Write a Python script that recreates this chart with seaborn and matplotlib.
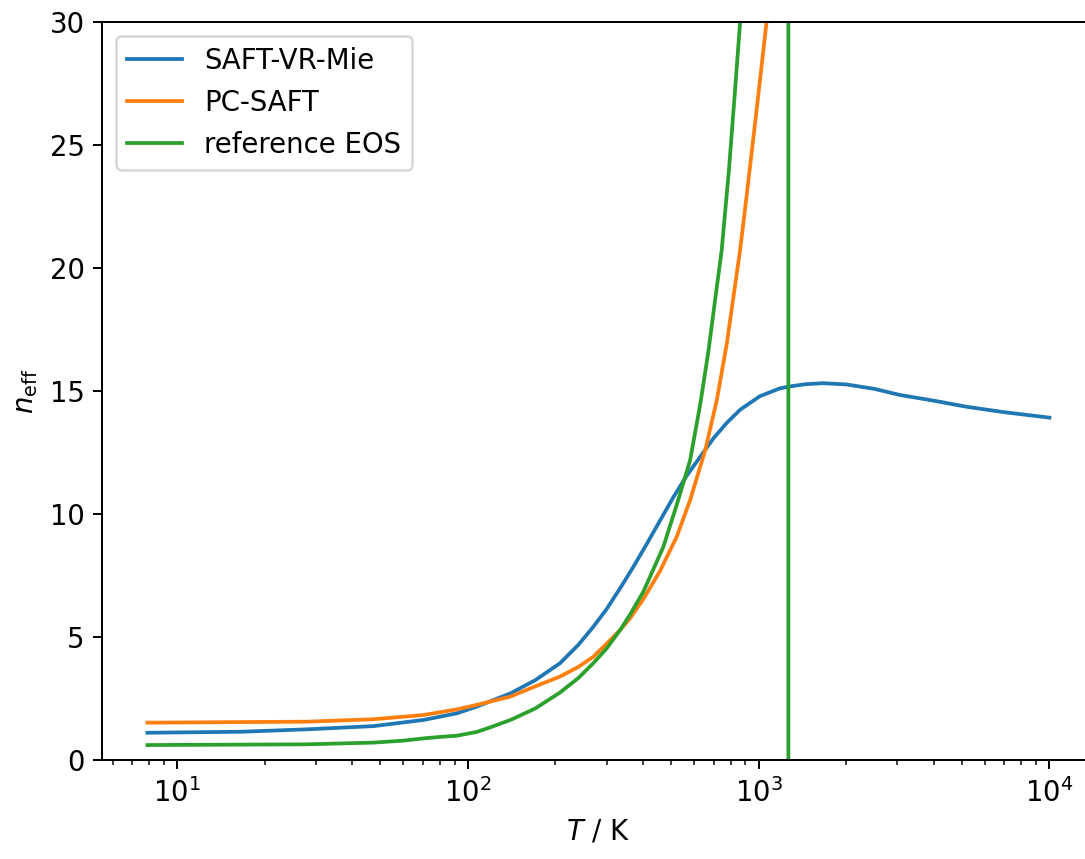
import numpy as np
import pandas as pd
import matplotlib
matplotlib.use('Agg')
import matplotlib.pyplot as plt
import seaborn as sns

# values (T in K, n_eff)
T_mie = [7.9, 16.5, 28, 47.4, 70.3, 91.6, 107, 140, 170, 207, 240, 270, 300, 334, 370, 410, 458,
         509, 564, 639, 700, 777, 863, 1009, 1183, 1265, 1450, 1664, 2000, 2500, 3064,
         4000, 5200, 7000, 10000]
n_mie = [1.12, 1.16, 1.26, 1.39, 1.64, 1.91, 2.18, 2.72, 3.25, 3.94, 4.7, 5.43, 6.15, 7.0, 7.85, 8.75, 9.75,
         10.7, 11.55, 12.45, 13.1, 13.72, 14.25, 14.8, 15.12, 15.19, 15.29, 15.33, 15.28, 15.1, 14.85,
         14.62, 14.37, 14.15, 13.93]

T_pc = [7.9, 28, 47.4, 70.3, 91.6, 107, 140, 170, 207, 240, 270, 300, 334, 360, 401, 458, 523,
        581, 655, 718, 777, 863, 910, 985, 1064, 1200]
n_pc = [1.53, 1.57, 1.67, 1.84, 2.07, 2.25, 2.59, 3.0, 3.40, 3.8, 4.21, 4.74, 5.30, 5.75, 6.55, 7.70, 9.1,
        10.58, 12.61, 14.65, 16.95, 20.74, 23.0, 26.5, 30.0, 40.0]

T_ref = [7.9, 28, 47.4, 60, 70.3, 80, 91.6, 107, 120, 140, 170, 207, 240, 270, 300, 334, 360, 401,
         470, 523, 581, 630, 671, 708, 746, 790, 830, 863, 1000, 1100, 1200, 1264, 1266, 1400]
n_ref = [0.62, 0.65, 0.72, 0.80, 0.89, 0.95, 1.0, 1.15, 1.35, 1.64, 2.1, 2.75, 3.35, 3.95, 4.55, 5.3, 5.9, 6.85,
         8.68, 10.4, 12.2, 14.5, 16.6, 18.71, 20.74, 24.0, 27.3, 30.0, 45.0, 80.0, 250.0, 5000.0, -5000.0, -200.0]

labels = ['SAFT-VR-Mie', 'PC-SAFT', 'reference EOS']
colors = ['#1f77b4', '#ff7f0e', '#2ca02c']

df = pd.concat([
    pd.DataFrame({'T': T_mie, 'n': n_mie, 'model': labels[0]}),
    pd.DataFrame({'T': T_pc, 'n': n_pc, 'model': labels[1]}),
    pd.DataFrame({'T': T_ref, 'n': n_ref, 'model': labels[2]}),
], ignore_index=True)

plt.rcParams['font.size'] = 11

fig = plt.figure(figsize=(1085 / 180, 859 / 180), dpi=180)
ax = fig.add_axes([0.0943, 0.1149, 0.9145, 0.8591])

sns.lineplot(data=df, x='T', y='n', hue='model', palette=dict(zip(labels, colors)),
             estimator=None, sort=False, linewidth=1.5, ax=ax)

ax.set_xscale('log')
ax.set_ylim(0, 30)
ax.set_xlabel('$T$ / K')
ax.set_ylabel(r'$n_\mathrm{eff}$')
ax.legend(loc='upper left', title=None)

fig.savefig('out.png', dpi=180)
